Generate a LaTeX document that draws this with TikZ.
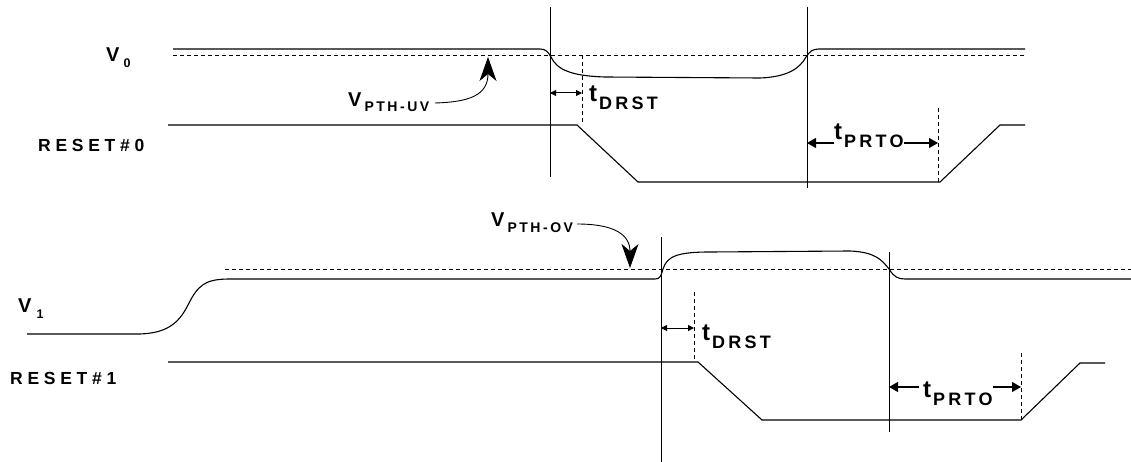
\documentclass[tikz,border=0pt]{standalone}
\usepackage{fontspec}
\setmainfont{Liberation Sans}
\newfontfamily\sigfont{Liberation Sans}[LetterSpace=27]
\newfontfamily\subfont{Liberation Sans}[LetterSpace=18]
\usetikzlibrary{arrows.meta,positioning}
\tikzstyle{l1}=[line width=1.1]
\tikzstyle{vline}=[line width=0.8]
\tikzstyle{dline}=[line width=0.9, dash pattern=on 4pt off 3pt]
\tikzstyle{lbl}=[inner sep=0, anchor=base west, font=\bfseries]
\tikzstyle{sig}=[lbl, font=\fontsize{17.5}{18}\selectfont\sigfont\bfseries]
\tikzstyle{volt}=[lbl, font=\fontsize{20}{20}\selectfont\bfseries]
\tikzstyle{tlbl}=[lbl, font=\fontsize{24}{24}\selectfont\bfseries]
\tikzstyle{darr}=[line width=1, {Triangle[length=6pt,width=6pt]}-{Triangle[length=6pt,width=6pt]}]
\tikzstyle{tarr}=[line width=1.1, -{Triangle[length=9pt,width=10pt]}]
\tikzstyle{pth}=[line width=0.9, -{Stealth[length=24pt,width=17pt,inset=7pt]}]
\newcommand{\lo}[3]{\raisebox{#1}{\fontsize{#2}{#2}\selectfont\subfont\bfseries #3}}

\begin{document}
\begin{tikzpicture}[x=1pt,y=-1pt]
    \useasboundingbox (0,0) rectangle (1131,462);

    % top: V0 and RESET#0
    \draw[l1] (173,49) -- (540,49) .. controls (546,49) and (548,52) .. (551,57) .. controls (557,70) and (572,76) .. (605,77) -- (760,78) .. controls (788,77) and (800,68) .. (806,57) .. controls (810,51) and (813,49) .. (819,49) -- (1025,49);
    \draw[dline] (173,55) -- (1025,55);
    \draw[l1] (168,125) -- (577,125) -- (638,182) -- (940,182) -- (1000,125) -- (1025,125);
    \draw[vline] (550,7) -- (550,177);
    \draw[vline] (807,7) -- (807,188);
    \draw[dline] (582,55) -- (582,125);
    \draw[dline] (938,108) -- (938,182);
    \draw[dline] (807,115) -- (807,188);

    \node[volt] (v0)   at (106,62)  {V\hspace{4pt}\lo{-6pt}{12.5}{0}};
    \node[sig]  (rst0) at (38,152)  {RESET\#0};
    \node[volt] (vuv)  at (348,107) {V\hspace{3pt}\lo{-5pt}{14}{PTH-UV}};
    \node[tlbl] (td0)  at (589,102) {t\hspace{2pt}\lo{-8pt}{18}{DRST}};
    \node[tlbl] (tp0)  at (834,140) {t\hspace{2pt}\lo{-8pt}{18}{PRTO}};

    \coordinate (uvtip) at (488,57);
    \coordinate (d0a) at (550,93);
    \coordinate (d0b) at (582,93);
    \coordinate (p0a) at (807,143);
    \coordinate (p0b) at (938,143);
    \draw[pth] (435,103) .. controls (470,102) and (488,95) .. (uvtip);
    \draw[darr] (d0a) -- (d0b);
    \draw[tarr] (tp0.west |- p0a) -- (p0a);
    \draw[tarr] (tp0.east |- p0b) -- (p0b);

    % bottom: V1 and RESET#1
    \draw[l1] (27,334) -- (140,334) .. controls (165,333) and (178,325) .. (188,305) .. controls (198,285) and (205,279) .. (230,279) -- (655,279) .. controls (660,279) and (661,276) .. (663,269) .. controls (667,256) and (678,252) .. (710,252) -- (850,251) .. controls (875,252) and (882,260) .. (889,269) .. controls (894,277) and (898,279) .. (905,279) -- (1131,279);
    \draw[dline] (225,269) -- (1131,269);
    \draw[l1] (168,362) -- (698,362) -- (762,420) -- (1021,420) -- (1080,363) -- (1105,363);
    \draw[vline] (661,237) -- (661,462);
    \draw[vline] (889,252) -- (889,432);
    \draw[dline] (694,292) -- (694,362);
    \draw[dline] (1021,353) -- (1021,420);
    \draw[dline] (889,360) -- (889,432);

    \node[volt] (v1)   at (18,312)  {V\hspace{5pt}\lo{-6pt}{12.5}{1}};
    \node[sig]  (rst1) at (10,384)  {RESET\#1};
    \node[volt] (vov)  at (491,226) {V\hspace{3pt}\lo{-6pt}{14}{PTH-OV}};
    \node[tlbl] (td1)  at (702,340) {t\hspace{2pt}\lo{-8pt}{18}{DRST}};
    \node[tlbl] (tp1)  at (923,397) {t\hspace{2pt}\lo{-8pt}{18}{PRTO}};

    \coordinate (ovtip) at (630,268);
    \coordinate (d1a) at (661,328);
    \coordinate (d1b) at (694,328);
    \coordinate (p1a) at (889,387);
    \coordinate (p1b) at (1021,387);
    \draw[pth] (577,224) .. controls (615,224) and (630,235) .. (ovtip);
    \draw[darr] (d1a) -- (d1b);
    \draw[tarr] ([xshift=-4pt]tp1.west |- p1a) -- (p1a);
    \draw[tarr] (tp1.east |- p1b) -- (p1b);
\end{tikzpicture}
\end{document}
